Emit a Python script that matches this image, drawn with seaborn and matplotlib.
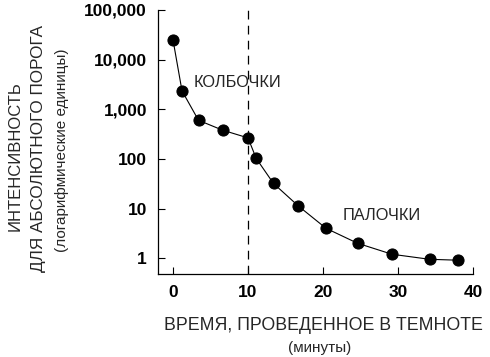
import matplotlib
matplotlib.use("Agg")
import matplotlib.pyplot as plt
import seaborn as sns
import pandas as pd
from matplotlib.ticker import FixedLocator, NullLocator

# Data
minutes = [0.0, 1.2, 3.4, 6.6, 10.0, 11.1, 13.4, 16.7, 20.4, 24.6, 29.2, 34.2, 38.0]
threshold = [25000, 2350, 600, 380, 265, 102, 32, 11.3, 4.0, 2.0, 1.2, 0.95, 0.91]
y_ticks = [1, 10, 100, 1000, 10000, 100000]
y_tick_labels = ["1", "10", "100", "1,000", "10,000", "100,000"]
x_ticks = [0, 10, 20, 30, 40]
boundary_minute = 10

sns.set_style("ticks")
plt.rcParams['font.family'] = ['Liberation Sans', 'DejaVu Sans']

df = pd.DataFrame({"minutes": minutes, "threshold": threshold})

fig = plt.figure(figsize=(4.9, 3.57), dpi=100)
ax = fig.add_axes([158/490, 1-274/357, (473-158)/490, (274-10)/357])

sns.lineplot(data=df, x="minutes", y="threshold", ax=ax, color="black",
             linewidth=0.8, marker="o", markersize=8, markeredgecolor="black",
             markerfacecolor="black")
ax.set_yscale("log")
ax.set_ylim(0.48, 1e5)
ax.set_xlim(-2, 40)

ax.axvline(boundary_minute, color="black", lw=0.9, ls=(0, (7, 5)))

ax.yaxis.set_major_locator(FixedLocator(y_ticks))
ax.set_yticklabels(y_tick_labels)
ax.yaxis.set_minor_locator(NullLocator())
ax.set_xticks(x_ticks)

ax.tick_params(axis="both", direction="in", length=5, width=0.8, colors="black",
               labelsize=12.5, pad=8)
for lab in ax.get_xticklabels() + ax.get_yticklabels():
    lab.set_fontweight("bold")

sns.despine(ax=ax)
for s in ["left", "bottom"]:
    ax.spines[s].set_linewidth(0.9)
    ax.spines[s].set_color("black")

ax.text(2.7, 3400, "КОЛБОЧКИ", fontsize=11.8, va="center", ha="left")
ax.text(27.9, 7.4, "ПАЛОЧКИ", fontsize=11.8, va="center", ha="center")

ax.set_xlabel("")
ax.set_ylabel("")
fig.text(323/490, 1-326/357, "ВРЕМЯ, ПРОВЕДЕННОЕ В ТЕМНОТЕ", fontsize=12.8,
         ha="center", va="center")
fig.text(320/490, 1-348/357, "(минуты)", fontsize=11, ha="center", va="center")

fig.text(15/490, 1-156/357, "ИНТЕНСИВНОСТЬ", fontsize=12, rotation=90,
         ha="center", va="center")
fig.text(39/490, 1-148/357, "ДЛЯ АБСОЛЮТНОГО ПОРОГА", fontsize=12.3, rotation=90,
         ha="center", va="center")
fig.text(62/490, 1-150/357, "(логарифмические единицы)", fontsize=11, rotation=90,
         ha="center", va="center")

fig.savefig("out.png", dpi=100)
